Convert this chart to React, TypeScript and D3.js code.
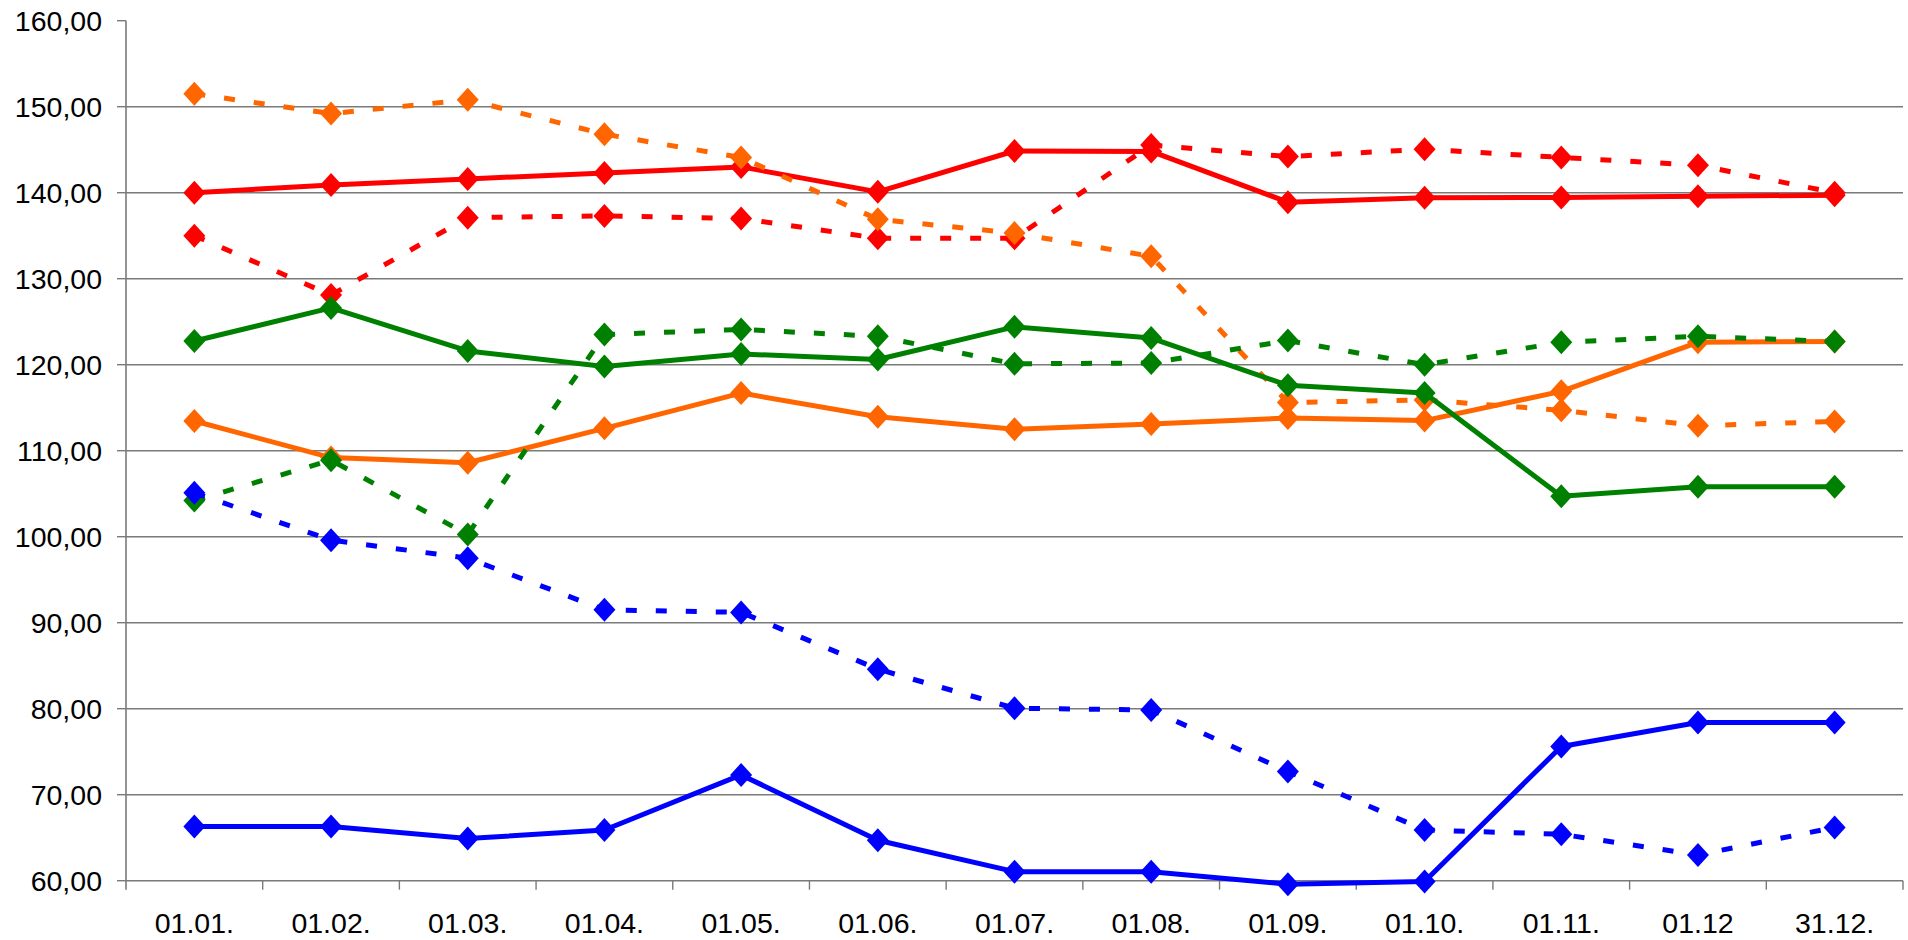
import * as d3 from "d3";
import React from "react";

const categories = ["01.01.", "01.02.", "01.03.", "01.04.", "01.05.", "01.06.", "01.07.", "01.08.", "01.09.", "01.10.", "01.11.", "01.12", "31.12."];

const redSolid = [140.0, 140.9, 141.6, 142.3, 143.0, 140.1, 144.85, 144.8, 138.9, 139.4, 139.45, 139.6, 139.7];
const redDashed = [135.0, 128.1, 137.1, 137.3, 137.0, 134.7, 134.7, 145.55, 144.2, 145.05, 144.1, 143.2, 140.0];
const orangeSolid = [113.45, 109.2, 108.6, 112.6, 116.7, 113.95, 112.5, 113.1, 113.8, 113.5, 116.9, 122.6, 122.7];
const orangeDashed = [151.5, 149.2, 150.8, 146.8, 144.1, 136.9, 135.3, 132.6, 115.6, 115.9, 114.7, 112.9, 113.4];
const greenSolid = [122.75, 126.6, 121.6, 119.8, 121.25, 120.6, 124.4, 123.1, 117.6, 116.7, 104.7, 105.8, 105.8];
const greenDashed = [104.2, 108.9, 100.25, 123.5, 124.1, 123.3, 120.1, 120.2, 122.8, 120.0, 122.6, 123.3, 122.7];
const blueSolid = [66.3, 66.3, 64.9, 65.9, 72.3, 64.7, 61.05, 61.05, 59.6, 59.9, 75.6, 78.4, 78.4];
const blueDashed = [105.1, 99.6, 97.5, 91.5, 91.2, 84.6, 80.05, 79.85, 72.7, 65.9, 65.4, 63.0, 66.2];

const yTicks = [60, 70, 80, 90, 100, 110, 120, 130, 140, 150, 160];

// drawing order matters for overlapping markers
const series = [
  { values: redSolid, color: "#FF0000", dashed: false },
  { values: redDashed, color: "#FF0000", dashed: true },
  { values: orangeSolid, color: "#FF6600", dashed: false },
  { values: orangeDashed, color: "#FF6600", dashed: true },
  { values: greenSolid, color: "#008000", dashed: false },
  { values: greenDashed, color: "#008000", dashed: true },
  { values: blueSolid, color: "#0000FF", dashed: false },
  { values: blueDashed, color: "#0000FF", dashed: true },
];

const width = 1908;
const height = 940;
const left = 126;
const right = 1903;
const top = 20.7;
const bottom = 880.7;

const fmt = d3.formatLocale({ decimal: ",", thousands: ".", grouping: [3], currency: ["", ""] }).format(".2f");

const App = () => {
  const x = d3.scaleBand<string>().domain(categories).range([left, right]).padding(0);
  const y = d3.scaleLinear().domain([60, 160]).range([bottom, top]);
  const cx = (i: number) => (x(categories[i]) || 0) + x.bandwidth() / 2;

  const line = d3
    .line<number>()
    .x((d, i) => cx(i))
    .y((d) => y(d));

  const diamond = (px: number, py: number) =>
    `M${px},${py - 12}L${px + 11},${py}L${px},${py + 12}L${px - 11},${py}Z`;

  const font = "'Liberation Sans', Arial, sans-serif";

  return (
    <svg width={width} height={height} style={{ position: "fixed", left: 0, top: 0, background: "#fff" }}>
      {/* gridlines */}
      {yTicks.filter((t) => t > 60 && t < 160).map((t) => (
        <line key={"g" + t} x1={left} x2={right} y1={y(t)} y2={y(t)} stroke="#7a7a7a" strokeWidth={1.4} />
      ))}
      {/* y axis */}
      <line x1={left} x2={left} y1={top} y2={bottom + 9} stroke="#7a7a7a" strokeWidth={1.6} />
      {yTicks.map((t) => (
        <g key={"y" + t}>
          <line x1={left - 9} x2={left} y1={y(t)} y2={y(t)} stroke="#7a7a7a" strokeWidth={1.4} />
          <text x={102} y={y(t)} dy="0.36em" textAnchor="end" fontFamily={font} fontSize={28.5} fill="#000">
            {fmt(t)}
          </text>
        </g>
      ))}
      {/* x axis */}
      <line x1={left} x2={right} y1={bottom} y2={bottom} stroke="#7a7a7a" strokeWidth={1.6} />
      {categories.map((c, i) => (
        <g key={"x" + c}>
          <line x1={(x(c) || 0) + x.bandwidth()} x2={(x(c) || 0) + x.bandwidth()} y1={bottom} y2={bottom + 9} stroke="#7a7a7a" strokeWidth={1.4} />
          <text x={cx(i)} y={933} textAnchor="middle" fontFamily={font} fontSize={28.5} fill="#000">
            {c}
          </text>
        </g>
      ))}
      {/* series */}
      {series.map((s, k) => (
        <g key={"s" + k}>
          <path
            d={line(s.values) || undefined}
            fill="none"
            stroke={s.color}
            strokeWidth={5}
            strokeDasharray={s.dashed ? "11,19" : undefined}
            strokeLinejoin="round"
          />
          {s.values.map((v, i) => (
            <path key={i} d={diamond(cx(i), y(v))} fill={s.color} />
          ))}
        </g>
      ))}
    </svg>
  );
};

export default App;
